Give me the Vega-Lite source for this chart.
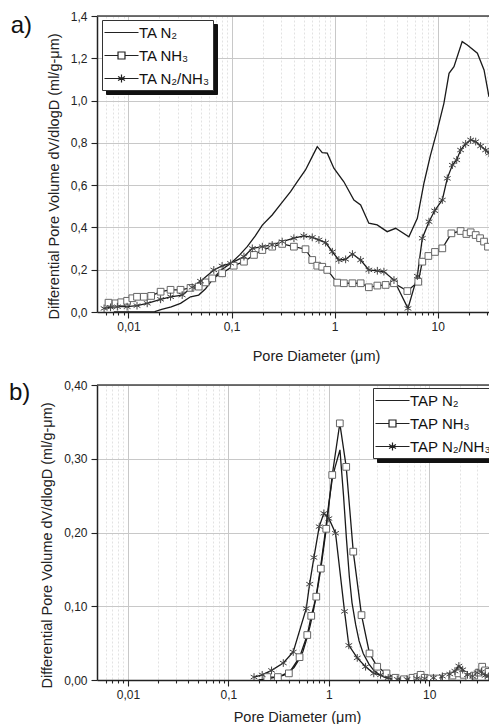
{
  "$schema": "https://vega.github.io/schema/vega-lite/v6.json",
  "padding": {"left": 8, "top": 10, "right": 0, "bottom": 0},
  "spacing": 16,
  "config": {
    "font": "Liberation Sans",
    "view": {"stroke": null},
    "axis": {
      "labelFont": "Liberation Sans", "labelFontSize": 12, "labelColor": "#222",
      "titleFont": "Liberation Sans", "titleFontSize": 14.5, "titleFontWeight": "normal", "titleColor": "#222",
      "domainColor": "#222", "domainWidth": 1.5, "tickColor": "#222", "tickWidth": 1.1
    }
  },
  "resolve": {"scale": {"color": "independent", "shape": "independent"}},
  "datasets": {
    "ta": [
      {"series": "TA N₂", "d": 0.0072, "v": 0.0}, {"series": "TA N₂", "d": 0.009, "v": 0.0}, {"series": "TA N₂", "d": 0.012, "v": 0.0},
      {"series": "TA N₂", "d": 0.015, "v": 0.0}, {"series": "TA N₂", "d": 0.018, "v": 0.002}, {"series": "TA N₂", "d": 0.021, "v": 0.012},
      {"series": "TA N₂", "d": 0.026, "v": 0.024}, {"series": "TA N₂", "d": 0.032, "v": 0.041}, {"series": "TA N₂", "d": 0.04, "v": 0.072},
      {"series": "TA N₂", "d": 0.048, "v": 0.08}, {"series": "TA N₂", "d": 0.056, "v": 0.11}, {"series": "TA N₂", "d": 0.067, "v": 0.16},
      {"series": "TA N₂", "d": 0.08, "v": 0.2}, {"series": "TA N₂", "d": 0.098, "v": 0.23}, {"series": "TA N₂", "d": 0.12, "v": 0.27},
      {"series": "TA N₂", "d": 0.142, "v": 0.309}, {"series": "TA N₂", "d": 0.17, "v": 0.36}, {"series": "TA N₂", "d": 0.199, "v": 0.411},
      {"series": "TA N₂", "d": 0.248, "v": 0.459}, {"series": "TA N₂", "d": 0.3, "v": 0.51}, {"series": "TA N₂", "d": 0.374, "v": 0.569},
      {"series": "TA N₂", "d": 0.44, "v": 0.62}, {"series": "TA N₂", "d": 0.522, "v": 0.672}, {"series": "TA N₂", "d": 0.6, "v": 0.73},
      {"series": "TA N₂", "d": 0.679, "v": 0.782}, {"series": "TA N₂", "d": 0.759, "v": 0.754}, {"series": "TA N₂", "d": 0.849, "v": 0.751},
      {"series": "TA N₂", "d": 0.984, "v": 0.68}, {"series": "TA N₂", "d": 1.23, "v": 0.616}, {"series": "TA N₂", "d": 1.54, "v": 0.53},
      {"series": "TA N₂", "d": 1.79, "v": 0.506}, {"series": "TA N₂", "d": 2.15, "v": 0.42}, {"series": "TA N₂", "d": 2.59, "v": 0.412},
      {"series": "TA N₂", "d": 3.24, "v": 0.38}, {"series": "TA N₂", "d": 3.91, "v": 0.396}, {"series": "TA N₂", "d": 5.26, "v": 0.356},
      {"series": "TA N₂", "d": 6.35, "v": 0.443}, {"series": "TA N₂", "d": 7.36, "v": 0.609}, {"series": "TA N₂", "d": 8.5, "v": 0.74},
      {"series": "TA N₂", "d": 9.93, "v": 0.861}, {"series": "TA N₂", "d": 11.5, "v": 0.987}, {"series": "TA N₂", "d": 12.9, "v": 1.129},
      {"series": "TA N₂", "d": 14.4, "v": 1.16}, {"series": "TA N₂", "d": 17.3, "v": 1.279}, {"series": "TA N₂", "d": 19.4, "v": 1.263},
      {"series": "TA N₂", "d": 24.3, "v": 1.224}, {"series": "TA N₂", "d": 28.2, "v": 1.145}, {"series": "TA N₂", "d": 31.5, "v": 1.018},

      {"series": "TA NH₃", "d": 0.0064, "v": 0.044}, {"series": "TA NH₃", "d": 0.0075, "v": 0.041}, {"series": "TA NH₃", "d": 0.0085, "v": 0.046},
      {"series": "TA NH₃", "d": 0.0097, "v": 0.053}, {"series": "TA NH₃", "d": 0.0109, "v": 0.065}, {"series": "TA NH₃", "d": 0.0121, "v": 0.072},
      {"series": "TA NH₃", "d": 0.0141, "v": 0.072}, {"series": "TA NH₃", "d": 0.0166, "v": 0.076}, {"series": "TA NH₃", "d": 0.0205, "v": 0.096},
      {"series": "TA NH₃", "d": 0.0256, "v": 0.105}, {"series": "TA NH₃", "d": 0.032, "v": 0.105}, {"series": "TA NH₃", "d": 0.04, "v": 0.114},
      {"series": "TA NH₃", "d": 0.048, "v": 0.12}, {"series": "TA NH₃", "d": 0.056, "v": 0.14}, {"series": "TA NH₃", "d": 0.065, "v": 0.159},
      {"series": "TA NH₃", "d": 0.081, "v": 0.183}, {"series": "TA NH₃", "d": 0.105, "v": 0.219}, {"series": "TA NH₃", "d": 0.132, "v": 0.238},
      {"series": "TA NH₃", "d": 0.165, "v": 0.27}, {"series": "TA NH₃", "d": 0.199, "v": 0.293}, {"series": "TA NH₃", "d": 0.248, "v": 0.309},
      {"series": "TA NH₃", "d": 0.31, "v": 0.322}, {"series": "TA NH₃", "d": 0.403, "v": 0.309}, {"series": "TA NH₃", "d": 0.522, "v": 0.297},
      {"series": "TA NH₃", "d": 0.607, "v": 0.246}, {"series": "TA NH₃", "d": 0.679, "v": 0.219}, {"series": "TA NH₃", "d": 0.759, "v": 0.214},
      {"series": "TA NH₃", "d": 0.849, "v": 0.199}, {"series": "TA NH₃", "d": 1.06, "v": 0.139}, {"series": "TA NH₃", "d": 1.23, "v": 0.136},
      {"series": "TA NH₃", "d": 1.49, "v": 0.136}, {"series": "TA NH₃", "d": 1.79, "v": 0.136}, {"series": "TA NH₃", "d": 2.15, "v": 0.117},
      {"series": "TA NH₃", "d": 2.6, "v": 0.125}, {"series": "TA NH₃", "d": 3.13, "v": 0.128}, {"series": "TA NH₃", "d": 3.77, "v": 0.136},
      {"series": "TA NH₃", "d": 5.08, "v": 0.099}, {"series": "TA NH₃", "d": 6.49, "v": 0.143}, {"series": "TA NH₃", "d": 7.1, "v": 0.238},
      {"series": "TA NH₃", "d": 8.13, "v": 0.265}, {"series": "TA NH₃", "d": 9.42, "v": 0.284}, {"series": "TA NH₃", "d": 11.1, "v": 0.301},
      {"series": "TA NH₃", "d": 13.6, "v": 0.372}, {"series": "TA NH₃", "d": 16.7, "v": 0.383}, {"series": "TA NH₃", "d": 19.0, "v": 0.369},
      {"series": "TA NH₃", "d": 20.9, "v": 0.377}, {"series": "TA NH₃", "d": 23.4, "v": 0.364}, {"series": "TA NH₃", "d": 25.8, "v": 0.349},
      {"series": "TA NH₃", "d": 28.2, "v": 0.333}, {"series": "TA NH₃", "d": 30.8, "v": 0.309},

      {"series": "TA N₂/NH₃", "d": 0.0058, "v": 0.017}, {"series": "TA N₂/NH₃", "d": 0.0067, "v": 0.022}, {"series": "TA N₂/NH₃", "d": 0.0078, "v": 0.025},
      {"series": "TA N₂/NH₃", "d": 0.0097, "v": 0.025}, {"series": "TA N₂/NH₃", "d": 0.0121, "v": 0.03}, {"series": "TA N₂/NH₃", "d": 0.0152, "v": 0.041},
      {"series": "TA N₂/NH₃", "d": 0.0205, "v": 0.06}, {"series": "TA N₂/NH₃", "d": 0.0256, "v": 0.072}, {"series": "TA N₂/NH₃", "d": 0.0332, "v": 0.08},
      {"series": "TA N₂/NH₃", "d": 0.0415, "v": 0.117}, {"series": "TA N₂/NH₃", "d": 0.05, "v": 0.146}, {"series": "TA N₂/NH₃", "d": 0.0673, "v": 0.199},
      {"series": "TA N₂/NH₃", "d": 0.081, "v": 0.218}, {"series": "TA N₂/NH₃", "d": 0.098, "v": 0.23}, {"series": "TA N₂/NH₃", "d": 0.132, "v": 0.262},
      {"series": "TA N₂/NH₃", "d": 0.159, "v": 0.301}, {"series": "TA N₂/NH₃", "d": 0.199, "v": 0.309}, {"series": "TA N₂/NH₃", "d": 0.248, "v": 0.317},
      {"series": "TA N₂/NH₃", "d": 0.31, "v": 0.333}, {"series": "TA N₂/NH₃", "d": 0.403, "v": 0.349}, {"series": "TA N₂/NH₃", "d": 0.503, "v": 0.36},
      {"series": "TA N₂/NH₃", "d": 0.607, "v": 0.353}, {"series": "TA N₂/NH₃", "d": 0.705, "v": 0.341}, {"series": "TA N₂/NH₃", "d": 0.818, "v": 0.328},
      {"series": "TA N₂/NH₃", "d": 0.951, "v": 0.285}, {"series": "TA N₂/NH₃", "d": 1.1, "v": 0.246}, {"series": "TA N₂/NH₃", "d": 1.28, "v": 0.249},
      {"series": "TA N₂/NH₃", "d": 1.49, "v": 0.274}, {"series": "TA N₂/NH₃", "d": 1.79, "v": 0.246}, {"series": "TA N₂/NH₃", "d": 2.15, "v": 0.199},
      {"series": "TA N₂/NH₃", "d": 2.6, "v": 0.195}, {"series": "TA N₂/NH₃", "d": 3.01, "v": 0.191}, {"series": "TA N₂/NH₃", "d": 3.77, "v": 0.151},
      {"series": "TA N₂/NH₃", "d": 5.15, "v": 0.017}, {"series": "TA N₂/NH₃", "d": 6.35, "v": 0.17}, {"series": "TA N₂/NH₃", "d": 7.1, "v": 0.349},
      {"series": "TA N₂/NH₃", "d": 8.24, "v": 0.427}, {"series": "TA N₂/NH₃", "d": 9.35, "v": 0.479}, {"series": "TA N₂/NH₃", "d": 11.1, "v": 0.53},
      {"series": "TA N₂/NH₃", "d": 12.4, "v": 0.632}, {"series": "TA N₂/NH₃", "d": 13.9, "v": 0.695}, {"series": "TA N₂/NH₃", "d": 15.3, "v": 0.719},
      {"series": "TA N₂/NH₃", "d": 16.7, "v": 0.766}, {"series": "TA N₂/NH₃", "d": 18.7, "v": 0.795}, {"series": "TA N₂/NH₃", "d": 20.9, "v": 0.814},
      {"series": "TA N₂/NH₃", "d": 23.4, "v": 0.806}, {"series": "TA N₂/NH₃", "d": 26.1, "v": 0.785}, {"series": "TA N₂/NH₃", "d": 29.2, "v": 0.766},
      {"series": "TA N₂/NH₃", "d": 31.5, "v": 0.751}
    ],
    "tap": [
      {"series": "TAP N₂", "d": 0.2, "v": 0.0}, {"series": "TAP N₂", "d": 0.25, "v": 0.002}, {"series": "TAP N₂", "d": 0.3, "v": 0.004},
      {"series": "TAP N₂", "d": 0.35, "v": 0.007}, {"series": "TAP N₂", "d": 0.4, "v": 0.011}, {"series": "TAP N₂", "d": 0.45, "v": 0.017},
      {"series": "TAP N₂", "d": 0.5, "v": 0.027}, {"series": "TAP N₂", "d": 0.55, "v": 0.038}, {"series": "TAP N₂", "d": 0.6, "v": 0.055},
      {"series": "TAP N₂", "d": 0.65, "v": 0.073}, {"series": "TAP N₂", "d": 0.7, "v": 0.093}, {"series": "TAP N₂", "d": 0.75, "v": 0.115},
      {"series": "TAP N₂", "d": 0.8, "v": 0.14}, {"series": "TAP N₂", "d": 0.85, "v": 0.165}, {"series": "TAP N₂", "d": 0.9, "v": 0.19},
      {"series": "TAP N₂", "d": 0.95, "v": 0.215}, {"series": "TAP N₂", "d": 1.0, "v": 0.24}, {"series": "TAP N₂", "d": 1.08, "v": 0.272},
      {"series": "TAP N₂", "d": 1.15, "v": 0.288}, {"series": "TAP N₂", "d": 1.29, "v": 0.312}, {"series": "TAP N₂", "d": 1.4, "v": 0.25},
      {"series": "TAP N₂", "d": 1.5, "v": 0.19}, {"series": "TAP N₂", "d": 1.6, "v": 0.14}, {"series": "TAP N₂", "d": 1.7, "v": 0.105},
      {"series": "TAP N₂", "d": 1.85, "v": 0.075}, {"series": "TAP N₂", "d": 2.0, "v": 0.053}, {"series": "TAP N₂", "d": 2.2, "v": 0.036},
      {"series": "TAP N₂", "d": 2.5, "v": 0.022}, {"series": "TAP N₂", "d": 2.8, "v": 0.013}, {"series": "TAP N₂", "d": 3.2, "v": 0.007},
      {"series": "TAP N₂", "d": 3.7, "v": 0.003}, {"series": "TAP N₂", "d": 4.3, "v": 0.001}, {"series": "TAP N₂", "d": 5.5, "v": 0.0},
      {"series": "TAP N₂", "d": 7.0, "v": 0.001}, {"series": "TAP N₂", "d": 9.0, "v": 0.002}, {"series": "TAP N₂", "d": 12.0, "v": 0.003},
      {"series": "TAP N₂", "d": 15.0, "v": 0.005}, {"series": "TAP N₂", "d": 18.0, "v": 0.008}, {"series": "TAP N₂", "d": 20.0, "v": 0.012},
      {"series": "TAP N₂", "d": 23.0, "v": 0.008}, {"series": "TAP N₂", "d": 26.0, "v": 0.005}, {"series": "TAP N₂", "d": 30.0, "v": 0.008},
      {"series": "TAP N₂", "d": 34.0, "v": 0.009}, {"series": "TAP N₂", "d": 39.0, "v": 0.006},

      {"series": "TAP NH₃", "d": 0.244, "v": 0.004}, {"series": "TAP NH₃", "d": 0.311, "v": 0.004}, {"series": "TAP NH₃", "d": 0.4, "v": 0.009},
      {"series": "TAP NH₃", "d": 0.511, "v": 0.031}, {"series": "TAP NH₃", "d": 0.61, "v": 0.061}, {"series": "TAP NH₃", "d": 0.668, "v": 0.087},
      {"series": "TAP NH₃", "d": 0.75, "v": 0.113}, {"series": "TAP NH₃", "d": 0.832, "v": 0.151}, {"series": "TAP NH₃", "d": 0.942, "v": 0.205},
      {"series": "TAP NH₃", "d": 1.081, "v": 0.278}, {"series": "TAP NH₃", "d": 1.286, "v": 0.348}, {"series": "TAP NH₃", "d": 1.489, "v": 0.289},
      {"series": "TAP NH₃", "d": 1.75, "v": 0.174}, {"series": "TAP NH₃", "d": 2.115, "v": 0.088}, {"series": "TAP NH₃", "d": 2.54, "v": 0.036},
      {"series": "TAP NH₃", "d": 3.03, "v": 0.018}, {"series": "TAP NH₃", "d": 3.75, "v": 0.009}, {"series": "TAP NH₃", "d": 4.6, "v": 0.003},
      {"series": "TAP NH₃", "d": 5.6, "v": 0.001}, {"series": "TAP NH₃", "d": 6.8, "v": 0.003}, {"series": "TAP NH₃", "d": 7.6, "v": 0.004},
      {"series": "TAP NH₃", "d": 8.2, "v": 0.007}, {"series": "TAP NH₃", "d": 9.0, "v": 0.003}, {"series": "TAP NH₃", "d": 10.2, "v": 0.002},
      {"series": "TAP NH₃", "d": 12.0, "v": 0.002}, {"series": "TAP NH₃", "d": 14.5, "v": 0.004}, {"series": "TAP NH₃", "d": 17.0, "v": 0.006},
      {"series": "TAP NH₃", "d": 19.5, "v": 0.009}, {"series": "TAP NH₃", "d": 22.0, "v": 0.007}, {"series": "TAP NH₃", "d": 25.0, "v": 0.004},
      {"series": "TAP NH₃", "d": 28.0, "v": 0.006}, {"series": "TAP NH₃", "d": 31.0, "v": 0.01}, {"series": "TAP NH₃", "d": 33.6, "v": 0.018},
      {"series": "TAP NH₃", "d": 36.0, "v": 0.013}, {"series": "TAP NH₃", "d": 39.0, "v": 0.011},

      {"series": "TAP N₂/NH₃", "d": 0.18, "v": 0.004}, {"series": "TAP N₂/NH₃", "d": 0.217, "v": 0.007}, {"series": "TAP N₂/NH₃", "d": 0.269, "v": 0.013},
      {"series": "TAP N₂/NH₃", "d": 0.352, "v": 0.023}, {"series": "TAP N₂/NH₃", "d": 0.442, "v": 0.038}, {"series": "TAP N₂/NH₃", "d": 0.596, "v": 0.097},
      {"series": "TAP N₂/NH₃", "d": 0.643, "v": 0.13}, {"series": "TAP N₂/NH₃", "d": 0.71, "v": 0.166}, {"series": "TAP N₂/NH₃", "d": 0.802, "v": 0.208},
      {"series": "TAP N₂/NH₃", "d": 0.892, "v": 0.226}, {"series": "TAP N₂/NH₃", "d": 1.0, "v": 0.219}, {"series": "TAP N₂/NH₃", "d": 1.166, "v": 0.199},
      {"series": "TAP N₂/NH₃", "d": 1.433, "v": 0.093}, {"series": "TAP N₂/NH₃", "d": 1.581, "v": 0.047}, {"series": "TAP N₂/NH₃", "d": 1.918, "v": 0.03},
      {"series": "TAP N₂/NH₃", "d": 2.32, "v": 0.018}, {"series": "TAP N₂/NH₃", "d": 2.8, "v": 0.009}, {"series": "TAP N₂/NH₃", "d": 3.27, "v": 0.007},
      {"series": "TAP N₂/NH₃", "d": 3.9, "v": 0.003}, {"series": "TAP N₂/NH₃", "d": 4.8, "v": 0.001}, {"series": "TAP N₂/NH₃", "d": 6.0, "v": 0.001},
      {"series": "TAP N₂/NH₃", "d": 7.5, "v": 0.002}, {"series": "TAP N₂/NH₃", "d": 9.0, "v": 0.002}, {"series": "TAP N₂/NH₃", "d": 11.0, "v": 0.003},
      {"series": "TAP N₂/NH₃", "d": 13.5, "v": 0.005}, {"series": "TAP N₂/NH₃", "d": 16.0, "v": 0.008}, {"series": "TAP N₂/NH₃", "d": 18.0, "v": 0.012},
      {"series": "TAP N₂/NH₃", "d": 19.7, "v": 0.019}, {"series": "TAP N₂/NH₃", "d": 21.5, "v": 0.014}, {"series": "TAP N₂/NH₃", "d": 24.0, "v": 0.007},
      {"series": "TAP N₂/NH₃", "d": 27.0, "v": 0.005}, {"series": "TAP N₂/NH₃", "d": 30.0, "v": 0.01}, {"series": "TAP N₂/NH₃", "d": 33.0, "v": 0.011},
      {"series": "TAP N₂/NH₃", "d": 36.0, "v": 0.006}, {"series": "TAP N₂/NH₃", "d": 39.0, "v": 0.005}
    ]
  },
  "vconcat": [
    {
      "width": 392,
      "height": 296,
      "title": {"text": "a)", "orient": "left", "anchor": "end", "frame": "group", "angle": 0, "offset": -7, "dy": -2, "fontSize": 24, "fontWeight": "normal", "baseline": "top", "font": "Liberation Sans", "color": "#111"},
      "data": {"name": "ta"},
      "layer": [
        {
          "data": {"values": [{}]},
          "mark": {"type": "rule", "color": "#444", "strokeWidth": 1.6},
          "encoding": {"y": {"datum": 1.4, "type": "quantitative"}}
        },
        {
          "mark": {"type": "line", "strokeWidth": 1.3, "clip": true},
          "encoding": {
            "x": {"field": "d", "type": "quantitative", "scale": {"type": "log", "domain": [0.00495, 31.5], "nice": false},
              "axis": {"title": "Pore Diameter (μm)",
                "values": [0.006,0.007,0.008,0.009,0.01,0.02,0.03,0.04,0.05,0.06,0.07,0.08,0.09,0.1,0.2,0.3,0.4,0.5,0.6,0.7,0.8,0.9,1,2,3,4,5,6,7,8,9,10,20,30],
                "labelExpr": "abs(log(datum.value)/LN10 - round(log(datum.value)/LN10)) < 0.001 ? replace(format(datum.value, '~g'), '.', ',') : ''",
                "labelOverlap": false, "labelFlush": false, "labelPadding": 3,
                "tickSize": {"condition": {"test": "abs(log(datum.value)/LN10 - round(log(datum.value)/LN10)) < 0.001", "value": 6}, "value": 3},
                "grid": true,
                "gridColor": {"condition": {"test": "abs(log(datum.value)/LN10 - round(log(datum.value)/LN10)) < 0.001", "value": "#c8c8c8"}, "value": "#e2e2e2"},
                "gridDash": {"condition": {"test": "abs(log(datum.value)/LN10 - round(log(datum.value)/LN10)) < 0.001", "value": []}, "value": [2, 2]},
                "titlePadding": 17, "titleX": 219}},
            "y": {"field": "v", "type": "quantitative", "scale": {"domain": [0, 1.4], "nice": false},
              "axis": {"title": "Differential Pore Volume dV/dlogD (ml/g-μm)",
                "values": [0,0.1,0.2,0.3,0.4,0.5,0.6,0.7,0.8,0.9,1.0,1.1,1.2,1.3,1.4],
                "labelExpr": "abs(datum.value*5 - round(datum.value*5)) < 0.001 ? replace(format(datum.value, '.1f'), '.', ',') : ''",
                "labelOverlap": false, "labelFlush": false, "labelPadding": 4,
                "tickSize": {"condition": {"test": "abs(datum.value*5 - round(datum.value*5)) < 0.001", "value": 6}, "value": 3},
                "grid": true,
                "gridColor": {"condition": {"test": "abs(datum.value*5 - round(datum.value*5)) < 0.001", "value": "#c8c8c8"}, "value": "#e2e2e2"},
                "gridDash": {"condition": {"test": "abs(datum.value*5 - round(datum.value*5)) < 0.001", "value": []}, "value": [2, 2]},
                "titlePadding": 9, "titleY": 160}},
            "detail": {"field": "series"},
            "color": {"field": "series", "type": "nominal", "scale": {"range": ["#1a1a1a", "#1a1a1a", "#1a1a1a"]},
              "legend": {"title": null, "orient": "none", "legendX": 9, "legendY": 8, "fillColor": "#111", "strokeColor": "#111",
                "padding": 3, "labelFontSize": 15, "labelFont": "Liberation Sans", "labelColor": "#111",
                "symbolSize": 289, "symbolType": "M-2,0H2", "symbolOffset": 7, "labelOffset": 8, "rowPadding": 5, "zindex": 1}}
          }
        },
        {
          "transform": [{"filter": "indexof(datum.series, 'NH') >= 0 && indexof(datum.series, '/') < 0"}],
          "mark": {"type": "point", "shape": "square", "filled": true, "fill": "white", "stroke": "#666", "strokeWidth": 1, "size": 45, "opacity": 1, "clip": true},
          "encoding": {
            "x": {"field": "d", "type": "quantitative"},
            "y": {"field": "v", "type": "quantitative"}
          }
        },
        {
          "transform": [{"filter": "indexof(datum.series, '/') >= 0"}],
          "mark": {"type": "point", "shape": "M0,-1V1M-0.87,-0.5L0.87,0.5M-0.87,0.5L0.87,-0.5", "filled": false, "stroke": "#444", "strokeWidth": 1, "size": 60, "opacity": 1, "clip": true},
          "encoding": {
            "x": {"field": "d", "type": "quantitative"},
            "y": {"field": "v", "type": "quantitative"}
          }
        },
        {
          "mark": {"type": "point", "filled": false, "opacity": 0, "size": 1, "clip": true},
          "encoding": {
            "x": {"field": "d", "type": "quantitative"},
            "y": {"field": "v", "type": "quantitative"},
            "shape": {"field": "series", "type": "nominal",
              "scale": {"domain": ["TA N₂", "TA NH₃", "TA N₂/NH₃"],
                "range": ["M-2,0H2", "M-2,0H-0.41M0.41,0H2M-0.41,-0.41H0.41V0.41H-0.41Z", "M-2,0H2M0,-0.47V0.47M-0.41,-0.24L0.41,0.24M-0.41,0.24L0.41,-0.24"]},
              "legend": {"title": null, "orient": "none", "legendX": 5, "legendY": 4, "fillColor": "white", "strokeColor": "#333",
                "padding": 3, "labelFontSize": 15, "labelFont": "Liberation Sans", "labelColor": "#111",
                "symbolSize": 289, "symbolOffset": 7, "labelOffset": 8, "rowPadding": 5, "zindex": 2,
                "symbolOpacity": 1, "symbolFillColor": "white", "symbolStrokeColor": "#222", "symbolStrokeWidth": 1.2}}
          }
        }
      ]
    },
    {
      "width": 392,
      "height": 295,
      "title": {"text": "b)", "orient": "left", "anchor": "end", "frame": "group", "angle": 0, "offset": -12, "dy": -4, "fontSize": 24, "fontWeight": "normal", "baseline": "top", "font": "Liberation Sans", "color": "#111"},
      "data": {"name": "tap"},
      "layer": [
        {
          "data": {"values": [{}]},
          "mark": {"type": "rule", "color": "#444", "strokeWidth": 1.6},
          "encoding": {"y": {"datum": 0.4, "type": "quantitative"}}
        },
        {
          "mark": {"type": "line", "strokeWidth": 1.3, "clip": true},
          "encoding": {
            "x": {"field": "d", "type": "quantitative", "scale": {"type": "log", "domain": [0.00492, 39.3], "nice": false},
              "axis": {"title": "Pore Diameter (μm)",
                "values": [0.006,0.007,0.008,0.009,0.01,0.02,0.03,0.04,0.05,0.06,0.07,0.08,0.09,0.1,0.2,0.3,0.4,0.5,0.6,0.7,0.8,0.9,1,2,3,4,5,6,7,8,9,10,20,30],
                "labelExpr": "abs(log(datum.value)/LN10 - round(log(datum.value)/LN10)) < 0.001 ? replace(format(datum.value, '~g'), '.', ',') : ''",
                "labelOverlap": false, "labelFlush": false, "labelPadding": 3,
                "tickSize": {"condition": {"test": "abs(log(datum.value)/LN10 - round(log(datum.value)/LN10)) < 0.001", "value": 6}, "value": 3},
                "grid": true,
                "gridColor": {"condition": {"test": "abs(log(datum.value)/LN10 - round(log(datum.value)/LN10)) < 0.001", "value": "#c8c8c8"}, "value": "#e2e2e2"},
                "gridDash": {"condition": {"test": "abs(log(datum.value)/LN10 - round(log(datum.value)/LN10)) < 0.001", "value": []}, "value": [2, 2]},
                "titlePadding": 10, "titleX": 200}},
            "y": {"field": "v", "type": "quantitative", "scale": {"domain": [0, 0.4], "nice": false},
              "axis": {"title": "Differential Pore Volume dV/dlogD (ml/g-μm)",
                "values": [0,0.025,0.05,0.075,0.1,0.125,0.15,0.175,0.2,0.225,0.25,0.275,0.3,0.325,0.35,0.375,0.4],
                "labelExpr": "abs(datum.value*20 - round(datum.value*20)) < 0.001 ? replace(format(datum.value, '.2f'), '.', ',') : ''",
                "labelOverlap": false, "labelFlush": false, "labelPadding": 4,
                "tickSize": {"condition": {"test": "abs(datum.value*20 - round(datum.value*20)) < 0.001", "value": 6}, "value": 3},
                "grid": true,
                "gridColor": {"condition": {"test": "abs(datum.value*20 - round(datum.value*20)) < 0.001", "value": "#c8c8c8"}, "value": "#e2e2e2"},
                "gridDash": {"condition": {"test": "abs(datum.value*20 - round(datum.value*20)) < 0.001", "value": []}, "value": [2, 2]},
                "titlePadding": 9, "titleY": 160}},
            "detail": {"field": "series"},
            "color": {"field": "series", "type": "nominal", "scale": {"range": ["#1a1a1a", "#1a1a1a", "#1a1a1a"]},
              "legend": {"title": null, "orient": "none", "legendX": 280, "legendY": 7, "fillColor": "#111", "strokeColor": "#111",
                "padding": 3, "labelFontSize": 15, "labelFont": "Liberation Sans", "labelColor": "#111",
                "symbolSize": 289, "symbolType": "M-2,0H2", "symbolOffset": 7, "labelOffset": 8, "rowPadding": 5, "zindex": 1}}
          }
        },
        {
          "transform": [{"filter": "indexof(datum.series, 'NH') >= 0 && indexof(datum.series, '/') < 0"}],
          "mark": {"type": "point", "shape": "square", "filled": true, "fill": "white", "stroke": "#666", "strokeWidth": 1, "size": 45, "opacity": 1, "clip": true},
          "encoding": {
            "x": {"field": "d", "type": "quantitative"},
            "y": {"field": "v", "type": "quantitative"}
          }
        },
        {
          "transform": [{"filter": "indexof(datum.series, '/') >= 0"}],
          "mark": {"type": "point", "shape": "M0,-1V1M-0.87,-0.5L0.87,0.5M-0.87,0.5L0.87,-0.5", "filled": false, "stroke": "#444", "strokeWidth": 1, "size": 60, "opacity": 1, "clip": true},
          "encoding": {
            "x": {"field": "d", "type": "quantitative"},
            "y": {"field": "v", "type": "quantitative"}
          }
        },
        {
          "mark": {"type": "point", "filled": false, "opacity": 0, "size": 1, "clip": true},
          "encoding": {
            "x": {"field": "d", "type": "quantitative"},
            "y": {"field": "v", "type": "quantitative"},
            "shape": {"field": "series", "type": "nominal",
              "scale": {"domain": ["TAP N₂", "TAP NH₃", "TAP N₂/NH₃"],
                "range": ["M-2,0H2", "M-2,0H-0.41M0.41,0H2M-0.41,-0.41H0.41V0.41H-0.41Z", "M-2,0H2M0,-0.47V0.47M-0.41,-0.24L0.41,0.24M-0.41,0.24L0.41,-0.24"]},
              "legend": {"title": null, "orient": "none", "legendX": 276, "legendY": 3, "fillColor": "white", "strokeColor": "#333",
                "padding": 3, "labelFontSize": 15, "labelFont": "Liberation Sans", "labelColor": "#111",
                "symbolSize": 289, "symbolOffset": 7, "labelOffset": 8, "rowPadding": 5, "zindex": 2,
                "symbolOpacity": 1, "symbolFillColor": "white", "symbolStrokeColor": "#222", "symbolStrokeWidth": 1.2}}
          }
        }
      ]
    }
  ]
}
